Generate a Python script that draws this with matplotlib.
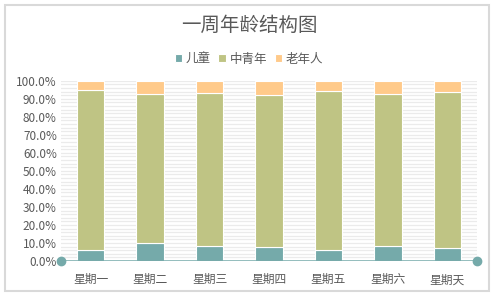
import matplotlib.pyplot as plt
from matplotlib.patches import Rectangle
from matplotlib.ticker import MultipleLocator, PercentFormatter
import numpy as np

plt.rcParams['font.family'] = ['Noto Sans CJK SC', 'DejaVu Sans']

days = ['星期一', '星期二', '星期三', '星期四', '星期五', '星期六', '星期天']
children = [5.9, 9.8, 8.2, 7.6, 6.3, 8.5, 7.0]
adults = [88.8, 83.0, 85.1, 84.6, 87.8, 84.3, 86.9]
elderly = [5.3, 7.2, 6.7, 7.8, 5.9, 7.2, 6.1]
series_names = ['儿童', '中青年', '老年人']

colors = ['#75AAAA', '#BFC484', '#FFCA8A']
text_color = '#595959'

fig = plt.figure(figsize=(4.98, 2.97), dpi=100, facecolor='white')
fig.patches.append(Rectangle((5 / 498, 1 - 291 / 297), 484 / 498, 286 / 297,
                             transform=fig.transFigure, fill=False,
                             edgecolor='#D9D9D9', linewidth=1.5))

ax = fig.add_axes([61 / 498, 1 - 261 / 297, 416 / 498, 180.3 / 297])
x = np.arange(len(days))
width = 0.46

bottom = np.zeros(len(days))
for vals, name, c in zip([children, adults, elderly], series_names, colors):
    ax.bar(x, vals, width, bottom=bottom, color=c, edgecolor='white',
           linewidth=0.8, label=name, zorder=3)
    bottom += np.array(vals)

ax.set_xlim(-0.5, len(days) - 0.5)
ax.set_ylim(0, 100)
ax.yaxis.set_major_locator(MultipleLocator(10))
ax.yaxis.set_minor_locator(MultipleLocator(2))
ax.yaxis.set_major_formatter(PercentFormatter(decimals=1))
ax.grid(axis='y', which='both', color='#EBEBEB', linewidth=0.9, zorder=0)
ax.set_axisbelow(True)

for s in ax.spines.values():
    s.set_visible(False)
ax.axhline(0, color='#75AAAA', linewidth=1.8, zorder=4)
ax.plot([-0.5, len(days) - 0.5], [0, 0], 'o', color='#75AAAA', markersize=6,
        clip_on=False, zorder=5)

ax.set_xticks(x)
ax.set_xticklabels(days, va='baseline')
ax.tick_params(axis='both', length=0, colors=text_color, labelsize=8.5)
ax.tick_params(axis='y', which='minor', length=0)
ax.tick_params(axis='x', pad=16)
ax.tick_params(axis='y', pad=3)

fig.text(0.5, 1 - 25 / 297, '一周年龄结构图', ha='center', va='center',
         fontsize=14, color=text_color)
fig.legend(loc='center', bbox_to_anchor=(0.5, 1 - 59 / 297), ncol=3, frameon=False,
           fontsize=9, labelcolor=text_color, handlelength=0.6, handleheight=0.6,
           handletextpad=0.3, columnspacing=0.6)

fig.savefig('out.png', dpi=100, facecolor='white')
